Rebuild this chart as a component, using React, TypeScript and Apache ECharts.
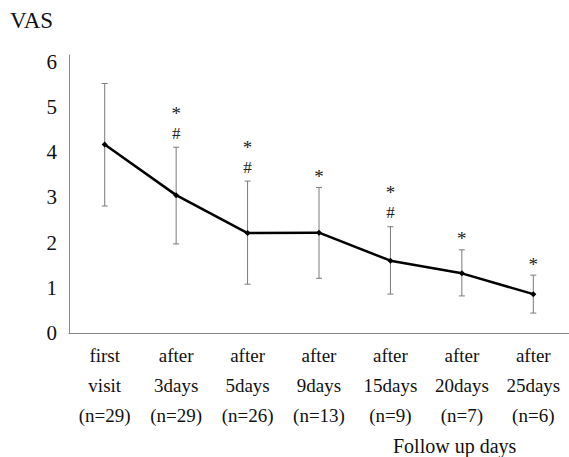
import React, { useEffect, useRef } from "react";
import * as echarts from "echarts";

const categories = [
  "first\nvisit\n(n=29)",
  "after\n3days\n(n=29)",
  "after\n5days\n(n=26)",
  "after\n9days\n(n=13)",
  "after\n15days\n(n=9)",
  "after\n20days\n(n=7)",
  "after\n25days\n(n=6)",
];
const means = [4.17, 3.05, 2.21, 2.22, 1.6, 1.32, 0.86];
const lower = [2.81, 1.97, 1.08, 1.21, 0.86, 0.82, 0.44];
const upper = [5.52, 4.11, 3.36, 3.22, 2.35, 1.84, 1.28];
const starMarks = [false, true, true, true, true, true, true];
const hashMarks = [false, true, true, false, true, false, false];
const yTicks = [0, 1, 2, 3, 4, 5, 6];

const FONT = "Liberation Serif";

export default function App() {
  const ref = useRef<HTMLDivElement>(null);
  useEffect(() => {
    if (!ref.current) return;
    const chart = echarts.init(ref.current, null, { renderer: "svg" });
    const errData = categories.map((_, i) => [i, lower[i], upper[i], starMarks[i] ? 1 : 0, hashMarks[i] ? 1 : 0]);
    chart.setOption({
      animation: false,
      backgroundColor: "#ffffff",
      textStyle: { fontFamily: FONT },
      grid: { left: 69, right: 0, top: 55, bottom: 124, containLabel: false },
      xAxis: {
        type: "category",
        data: categories,
        boundaryGap: true,
        axisLine: { lineStyle: { color: "#868686", width: 1 } },
        axisTick: { show: false },
        axisLabel: {
          interval: 0,
          margin: 7,
          fontFamily: FONT,
          fontSize: 19,
          lineHeight: 30,
          color: "#111",
        },
      },
      yAxis: {
        type: "value",
        min: 0,
        max: 6.15,
        interval: 1,
        splitLine: { show: false },
        axisTick: { show: false },
        axisLine: { show: true, lineStyle: { color: "#868686", width: 1 } },
        axisLabel: {
          margin: 12,
          fontFamily: FONT,
          fontSize: 21,
          lineHeight: 28,
          color: "#111",
          padding: [6, 0, 0, 0],
          formatter: (v: number) => (yTicks.includes(v) ? String(v) : ""),
        },
      },
      graphic: [
        {
          type: "text",
          left: 10,
          top: 6,
          style: { text: "VAS", fontFamily: FONT, fontSize: 23, lineHeight: 28, fill: "#111" },
        },
        {
          type: "text",
          left: 393,
          top: 433,
          style: { text: "Follow up days", fontFamily: FONT, fontSize: 20, lineHeight: 26, fill: "#111" },
        },
      ],
      series: [
        {
          type: "custom",
          z: 1,
          data: errData,
          renderItem: (params: any, api: any) => {
            const x = api.value(0);
            const lo = api.coord([x, api.value(1)]);
            const hi = api.coord([x, api.value(2)]);
            const hasStar = api.value(3) === 1;
            const hasHash = api.value(4) === 1;
            const cx = lo[0];
            const cap = 3;
            const st = { stroke: "#7a7a7a", lineWidth: 1 };
            const children: any[] = [
              { type: "line", shape: { x1: cx, y1: lo[1], x2: cx, y2: hi[1] }, style: st },
              { type: "line", shape: { x1: cx - cap, y1: lo[1], x2: cx + cap, y2: lo[1] }, style: st },
              { type: "line", shape: { x1: cx - cap, y1: hi[1], x2: cx + cap, y2: hi[1] }, style: st },
            ];
            if (hasHash) {
              children.push({
                type: "text",
                style: {
                  text: "#", x: cx, y: hi[1] - 14, align: "center", verticalAlign: "middle",
                  fontFamily: FONT, fontSize: 17, fill: "#222",
                },
              });
            }
            if (hasStar) {
              children.push({
                type: "text",
                style: {
                  text: "*",
                  x: cx,
                  y: hi[1] - (hasHash ? 34 : 11),
                  align: "center",
                  verticalAlign: "middle",
                  fontFamily: FONT,
                  fontSize: 19,
                  fill: "#222",
                },
              });
            }
            return { type: "group", children };
          },
        },
        {
          type: "line",
          z: 3,
          data: means,
          symbol: "diamond",
          symbolSize: 6,
          itemStyle: { color: "#000" },
          lineStyle: { color: "#000", width: 2.5 },
        },
      ],
    });
    return () => chart.dispose();
  }, []);
  return (
    <div
      ref={ref}
      style={{ position: "fixed", left: 0, top: 0, width: 569, height: 457 }}
    />
  );
}
